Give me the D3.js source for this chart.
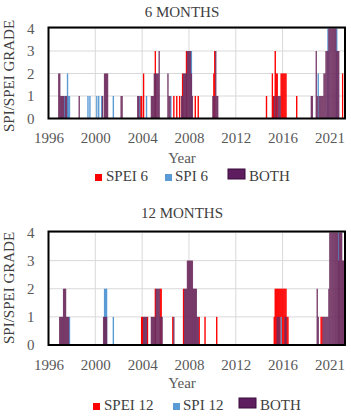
<!DOCTYPE html>
<html>
<head>
<meta charset="utf-8">
<script src="https://cdn.jsdelivr.net/npm/d3@7"></script>
<style>
  html, body { margin: 0; padding: 0; background: #fff; }
  svg text { font-family: "Liberation Serif", "Times New Roman", serif; }
</style>
</head>
<body>
<div class="chart-wrapper"></div>
<script>
// monthly drought grades, [month, grade]
const spei6 = [["2003-11",1],["2003-12",1],["2004-02",2],["2005-02",3],["2006-09",1],["2006-12",1],
  ["2007-03",1],["2007-06",2],["2007-10",3],["2008-07",1],["2008-10",1],["2010-02",2],["2010-03",3],
  ["2014-08",1],["2015-02",2],["2015-03",1],["2015-05",3],["2015-06",2],["2015-07",2],
  ["2015-11",2],["2015-12",2],["2016-01",2],["2016-02",2],["2016-03",2],["2016-04",2],
  ["2017-03",1],["2021-02",2]];
const spi6 = [["1997-05",1],["1997-08",2],["1997-09",1],["1997-10",1],["1999-05",1],["1999-07",1],
  ["2000-02",1],["2000-04",1],["2000-07",1],["2001-07",1],["2003-10",1],["2004-05",1],["2006-06",1],
  ["2008-03",3],["2019-01",2],["2019-11",4],["2020-08",4]];
const both6 = [["1996-11",2],["1996-12",2],["1997-01",1],["1997-02",1],["1997-03",1],["1997-04",1],
  ["1997-06",1],["1997-07",1],["1998-08",1],["2000-08",1],["2000-10",2],["2000-11",2],["2000-12",2],
  ["2001-01",2],["2002-03",1],["2002-04",1],["2003-08",1],["2003-09",1],
  ["2004-10",1],["2004-11",1],["2004-12",1],["2005-01",2],["2005-02",2],["2005-03",2],["2005-04",2],
  ["2005-05",2],["2005-06",3],["2006-03",2],["2006-04",1],["2006-05",1],
  ["2007-05",1],["2007-06",1],["2007-07",2],["2007-08",2],["2007-09",2],["2007-10",2],["2007-11",3],
  ["2007-12",3],["2008-01",3],["2008-02",3],["2008-03",2],["2008-04",1],
  ["2010-01",1],["2010-02",1],["2010-03",1],["2010-04",3],["2010-05",1],["2010-06",1],
  ["2015-04",1],["2015-06",1],["2015-08",1],["2015-09",1],["2015-10",1],
  ["2018-06",1],["2018-07",1],["2018-11",3],["2018-12",1],["2019-02",1],["2019-03",1],["2019-04",1],
  ["2019-05",1],["2019-06",1],["2019-07",2],["2019-08",2],["2019-09",3],["2019-10",3],["2019-11",3],
  ["2019-12",4],["2020-01",4],["2020-02",4],["2020-03",4],["2020-04",4],["2020-05",4],["2020-06",4],
  ["2020-07",4],["2020-08",3],["2020-09",3],["2020-10",3]];

const spei12 = [["2003-12",1],["2004-01",1],["2004-06",1],["2005-02",2],["2005-07",2],["2005-08",2],
  ["2006-08",1],["2007-07",2],["2008-11",1],["2009-05",1],["2010-05",1],
  ["2015-04",1],["2015-05",2],["2015-06",2],["2015-07",2],["2015-08",2],["2015-09",2],["2015-10",2],
  ["2015-11",2],["2015-12",2],["2016-01",2],["2016-02",2],["2016-03",2],["2016-04",2],["2016-05",1],
  ["2016-06",1],["2019-04",1],["2019-05",1]];
const spi12 = [["1997-10",1],["2000-10",2],["2000-11",2],["2000-12",2],["2001-07",1],["2015-11",1],
  ["2020-10",4]];
const both12 = [["1996-12",1],["1997-01",1],["1997-02",1],["1997-03",1],["1997-04",2],["1997-05",2],
  ["1997-06",2],["1997-07",1],["1997-08",1],["1997-09",1],
  ["2000-09",1],["2000-10",1],["2000-11",1],["2000-12",1],
  ["2004-02",1],["2004-03",1],["2004-04",1],["2004-05",1],
  ["2004-10",1],["2004-11",1],["2004-12",1],["2005-01",1],["2005-02",1],["2005-03",2],["2005-04",2],
  ["2005-05",2],["2005-06",2],["2005-07",1],["2005-08",1],["2005-09",1],["2006-09",1],
  ["2007-08",2],["2007-09",2],["2007-10",2],["2007-11",3],["2007-12",3],["2008-01",3],["2008-02",3],
  ["2008-03",3],["2008-04",3],["2008-05",2],["2008-06",2],["2008-07",2],["2008-08",2],["2008-09",1],
  ["2008-10",1],["2015-07",1],["2015-08",1],["2015-09",1],["2016-03",1],["2016-04",1],
  ["2018-12",2],["2019-01",1],["2019-06",1],["2019-07",1],["2019-08",1],["2019-09",1],["2019-10",1],
  ["2019-11",1],["2019-12",2],["2020-01",4],["2020-02",4],["2020-03",4],["2020-04",4],["2020-05",4],
  ["2020-06",4],["2020-07",4],["2020-08",4],["2020-09",4],["2020-10",3],["2020-11",4],["2020-12",4],
  ["2021-01",4],["2021-02",3],["2021-03",3],["2021-04",3]];

const tickYears = ["1996-01","2000-01","2004-01","2008-01","2012-01","2016-01","2020-01"];
const tickLabels = ["1996","2000","2004","2008","2012","2016","2021"];
const grades = [0, 1, 2, 3, 4];

const parse = d3.timeParse("%Y-%m");
const start = parse("1996-01"), end = parse("2021-05");

const svg = d3.select('.chart-wrapper').append('svg')
  .attr('width', 351).attr('height', 418);

const colors = { spei: '#ff0000', spi: '#5b9bd5', both: '#6e2c5e' };

function drawPanel(p) {
  const x = d3.scaleTime().domain([start, end]).range([48.5, 345]);
  const y = d3.scaleLinear().domain([0, 4]).range([p.bottom, p.top]);
  const g = svg.append('g');

  g.append('text').attr('x', 182).attr('y', p.titleY).attr('text-anchor', 'middle')
    .attr('font-size', 15).attr('fill', '#404040').text(p.title);

  // grid
  g.selectAll('.hgrid').data(grades).enter().append('line')
    .attr('x1', 48.5).attr('x2', 345).attr('y1', d => y(d)).attr('y2', d => y(d))
    .attr('stroke', '#d9d9d9').attr('stroke-width', 1);
  g.selectAll('.vgrid').data(tickYears.slice(1)).enter().append('line')
    .attr('x1', d => x(parse(d))).attr('x2', d => x(parse(d)))
    .attr('y1', p.top).attr('y2', p.bottom)
    .attr('stroke', '#d9d9d9').attr('stroke-width', 1);

  // bars
  const series = [[p.spei, colors.spei, 1], [p.spi, colors.spi, 1], [p.both, colors.both, 0.9]];
  series.forEach(([data, col, op]) => {
    g.append('g').selectAll('rect').data(data).enter().append('rect')
      .attr('x', d => x(parse(d[0])) - 0.2)
      .attr('width', d => x(d3.timeMonth.offset(parse(d[0]), 1)) - x(parse(d[0])) + 0.4)
      .attr('y', d => y(d[1]))
      .attr('height', d => y(0) - y(d[1]))
      .attr('fill', col).attr('fill-opacity', op);
  });

  // frame
  g.append('rect').attr('x', 48.5).attr('y', p.top - 1).attr('width', 296.5)
    .attr('height', p.bottom - p.top + 1)
    .attr('fill', 'none').attr('stroke', '#000').attr('stroke-width', 2);

  // y axis
  const yAxis = d3.axisLeft(y).tickValues(grades).tickFormat(d3.format('d')).tickSize(0).tickPadding(14);
  g.append('g').attr('transform', 'translate(48.5,0)').call(yAxis)
    .call(s => s.select('.domain').remove())
    .selectAll('text').attr('font-size', 15).attr('fill', '#595959')
    .style('font-family', '"Liberation Serif", serif');

  // x axis
  const xAxis = d3.axisBottom(x).tickValues(tickYears.map(parse))
    .tickFormat((d, i) => tickLabels[i]).tickSize(0).tickPadding(0);
  g.append('g').attr('transform', 'translate(0,' + (p.tickY - 11) + ')').call(xAxis)
    .call(s => s.select('.domain').remove())
    .selectAll('text').attr('font-size', 15).attr('fill', '#595959')
    .style('font-family', '"Liberation Serif", serif');

  g.append('text').attr('x', 182).attr('y', p.yearY).attr('text-anchor', 'middle')
    .attr('font-size', 15).attr('fill', '#595959').text('Year');

  g.append('text').attr('transform', 'translate(14,' + p.yMid + ') rotate(-90)')
    .attr('text-anchor', 'middle').attr('font-size', 15).attr('fill', '#404040')
    .text('SPI/SPEI GRADE');

  // legend
  const ly = p.legendY;
  g.append('rect').attr('x', p.lx[0]).attr('y', ly - 7).attr('width', 7).attr('height', 7).attr('fill', colors.spei);
  g.append('text').attr('x', p.lx[0] + 11).attr('y', ly).attr('font-size', 15).attr('fill', '#404040').text(p.names[0]);
  g.append('rect').attr('x', p.lx[1]).attr('y', ly - 7).attr('width', 7).attr('height', 7).attr('fill', colors.spi);
  g.append('text').attr('x', p.lx[1] + 10).attr('y', ly).attr('font-size', 15).attr('fill', '#404040').text(p.names[1]);
  g.append('rect').attr('x', p.lx[2]).attr('y', ly - 12).attr('width', 17).attr('height', 10)
    .attr('fill', '#5e1d5e').attr('stroke', '#3a0d3a').attr('stroke-width', 1);
  g.append('text').attr('x', p.lx[2] + 21).attr('y', ly).attr('font-size', 15).attr('fill', '#404040').text(p.names[2]);
}

drawPanel({ title: '6 MONTHS', titleY: 17, top: 28.5, bottom: 118.5, tickY: 143, yearY: 163,
  legendY: 181, yMid: 76, spei: spei6, spi: spi6, both: both6,
  names: ['SPEI 6', 'SPI 6', 'BOTH'], lx: [95, 165, 228] });
drawPanel({ title: '12 MONTHS', titleY: 218, top: 232.5, bottom: 345, tickY: 370, yearY: 388,
  legendY: 410, yMid: 288, spei: spei12, spi: spi12, both: both12,
  names: ['SPEI 12', 'SPI 12', 'BOTH'], lx: [93, 173, 239] });
</script>
</body>
</html>
